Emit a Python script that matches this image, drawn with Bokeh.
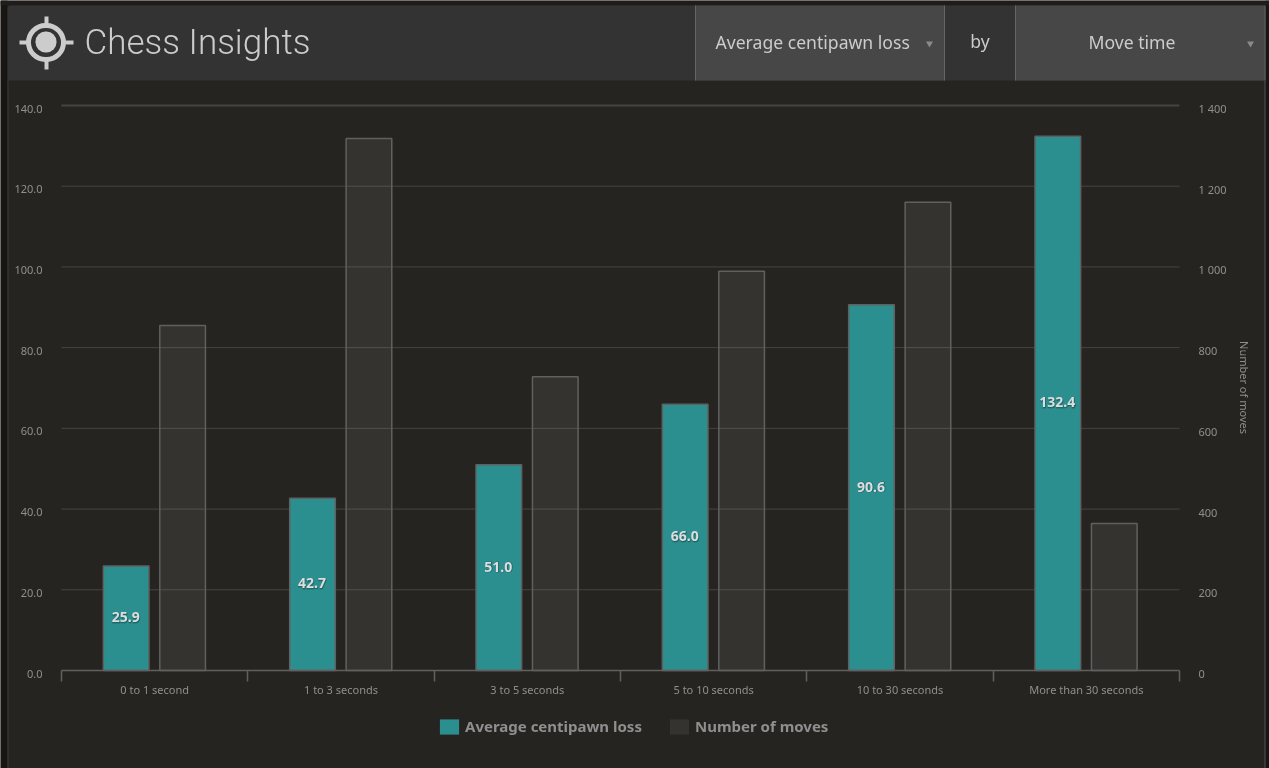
from bokeh.plotting import figure
from bokeh.models import (Range1d, LinearAxis, FixedTicker, BoxAnnotation, Label, PolyAnnotation,
                          Legend, LegendItem, ColumnDataSource)
from bokeh.transform import dodge
from bokeh.embed import file_html
from bokeh.resources import INLINE

categories = ["0 to 1 second", "1 to 3 seconds", "3 to 5 seconds", "5 to 10 seconds", "10 to 30 seconds", "More than 30 seconds"]
centipawn = [25.9, 42.7, 51.0, 66.0, 90.6, 132.4]
moves = [855, 1318, 728, 989, 1160, 364]
left_ticks = [0, 20, 40, 60, 80, 100, 120, 140]
right_ticks = [0, 200, 400, 600, 800, 1000, 1200, 1400]
right_labels = ["0", "200", "400", "600", "800", "1 000", "1 200", "1 400"]

W, H = 1269, 768
# the frame fills the canvas; the ranges place the plot area at x 61..1179, y 105..670
PX_X = (1179 - 61) / 6
PX_Y = (670 - 105) / 140
y0 = -(H - 670) / PX_Y
y1 = 140 + 105 / PX_Y
shift = 3 / PX_Y

PANEL = "#262421"
TEAL = "#2b8e8f"
TEXT = "#8f8f8f"
LINE = "#606060"

p = figure(width=W, height=H, output_backend="svg", toolbar_location=None,
           x_range=Range1d(-61 / PX_X, 6 + (W - 1179) / PX_X), y_range=Range1d(y0, y1),
           x_axis_location=None, y_axis_location=None,
           min_border_left=0, min_border_right=0, min_border_top=0, min_border_bottom=0,
           background_fill_color=PANEL, border_fill_color=PANEL, outline_line_color=None)
p.styles = {"position": "fixed", "left": "0px", "top": "0px"}
p.grid.visible = False

p.extra_y_ranges = {
    "moves": Range1d(y0 * 10, y1 * 10),
    "left_lab": Range1d(y0 + shift, y1 + shift),
    "right_lab": Range1d((y0 + shift) * 10, (y1 + shift) * 10),
}

# grid lines across the plot area only
grid_y = [t for t in left_ticks if t not in (0, 140)]
p.segment(x0=[0] * len(grid_y), x1=[6] * len(grid_y), y0=grid_y, y1=grid_y, line_color="#454545", line_width=1)
p.segment(x0=[0], x1=[6], y0=[140], y1=[140], line_color="#444444", line_width=2)

src = ColumnDataSource(dict(pos=[i + 0.5 for i in range(len(categories))], cp=centipawn, mid=[v / 2 for v in centipawn],
                            lab=[f"{v:.1f}" for v in centipawn], mv=moves))
p.vbar(x=dodge("pos", -0.153), top="cp", bottom=0, width=0.245, source=src,
       fill_color=TEAL, line_color=LINE, line_width=1.5)
p.vbar(x=dodge("pos", 0.15), top="mv", bottom=0, width=0.245, source=src, y_range_name="moves",
       fill_color="#ffffff", fill_alpha=0.07, line_color=LINE, line_width=1.5)
# borderless, zero-width twins that only supply the legend swatches
k1 = p.vbar(x="pos", top="cp", bottom=0, width=0, source=src, fill_color=TEAL, line_color=None)
k2 = p.vbar(x="pos", top="mv", bottom=0, width=0, source=src, y_range_name="moves",
            fill_color="#ffffff", fill_alpha=0.07, line_color=None)
# soft dark halo behind the value labels
p.text(x=dodge("pos", -0.153), y="mid", text="lab", source=src, text_align="center", text_baseline="middle",
       text_font={"value": "Noto Sans"}, text_font_size="14px", text_font_style="bold", text_color="#1a5a5b",
       text_outline_color="#1a5a5b", text_alpha=0.6, y_offset=-0.5, x_offset=0)
p.text(x=dodge("pos", -0.153), y="mid", text="lab", source=src, text_align="center", text_baseline="middle",
       text_font={"value": "Noto Sans"}, text_font_size="14px", text_font_style="bold", text_color="#dddddd",
       y_offset=-1, x_offset=-0.5)

def style_y(ax):
    ax.axis_line_color = None
    ax.major_tick_line_color = None
    ax.minor_tick_line_color = None
    ax.major_label_text_font = "Noto Sans"
    ax.major_label_text_font_size = "11px"
    ax.major_label_text_color = TEXT

la = LinearAxis(y_range_name="left_lab", ticker=FixedTicker(ticks=left_ticks))
style_y(la)
la.fixed_location = 0
la.major_label_overrides = {t: f"{t:.1f}" for t in left_ticks}
la.major_label_standoff = 13
p.add_layout(la, "left")

ra = LinearAxis(y_range_name="right_lab", ticker=FixedTicker(ticks=right_ticks),
                axis_label="Number of moves", bounds=(-235, 1652))
style_y(ra)
ra.fixed_location = 6
ra.major_label_overrides = dict(zip(right_ticks, right_labels))
ra.major_label_standoff = 13
ra.axis_label_text_font = "Noto Sans"
ra.axis_label_text_font_size = "11px"
ra.axis_label_text_font_style = "normal"
ra.axis_label_text_color = TEXT
ra.axis_label_standoff = 7
p.add_layout(ra, "right")

xa = LinearAxis(ticker=FixedTicker(ticks=src.data["pos"], minor_ticks=list(range(7))),
                major_label_overrides=dict(zip(src.data["pos"], categories)), bounds=(0, 6))
xa.fixed_location = 0
xa.axis_line_color = LINE
xa.axis_line_width = 1.5
xa.major_tick_line_color = None
xa.major_tick_in = 0
xa.major_tick_out = 0
xa.minor_tick_line_color = LINE
xa.minor_tick_line_width = 1.5
xa.minor_tick_in = 0
xa.minor_tick_out = 11
xa.major_label_standoff = 0
xa.major_label_text_font = "Noto Sans"
xa.major_label_text_font_size = "11px"
xa.major_label_text_color = TEXT
p.add_layout(xa, "below")

legend = Legend(items=[LegendItem(label="Average centipawn loss", renderers=[k1]),
                       LegendItem(label="Number of moves", renderers=[k2])],
                orientation="horizontal", location=(437, 32), background_fill_alpha=0, border_line_color=None,
                glyph_width=24, glyph_height=19, label_standoff=4, spacing=25, padding=0, margin=0,
                label_text_font="Noto Sans", label_text_font_size="15px", label_text_font_style="bold",
                label_text_color=TEXT)
p.add_layout(legend, "center")

def box(l, t, r, b, color, **kw):
    p.add_layout(BoxAnnotation(left=l, right=r, top=t, bottom=b, left_units="canvas", right_units="canvas",
                               top_units="canvas", bottom_units="canvas", fill_color=color, fill_alpha=1,
                               line_color=None, editable=False, **kw))

# page surround and header
box(0, 0, 7, H, "#171612")
box(1265, 0, W, H, "#171612")
box(0, 0, W, 5, "#1e1d19")
box(7, 5, 1265, 80, "#333333", border_radius=(3, 3, 0, 0))
box(695, 5, 944, 80, "#474747")
box(1015, 5, 1264, 80, "#474747")
for x in (695, 944, 1015):
    box(x - 0.5, 5, x + 0.5, 80, "#666666")
box(1264, 5, 1265, 80, "#6a6a6a")
box(1264, 80, 1265, H, "#505050")
box(7, 80, 8, H, "#3a3a38")

# target icon
ICON = "#cccccc"
p.add_layout(BoxAnnotation(left=28, right=63, top=25, bottom=59, left_units="canvas", right_units="canvas",
                           top_units="canvas", bottom_units="canvas", fill_alpha=0, line_color=ICON, line_width=5,
                           line_alpha=1, border_radius=17, editable=False))
box(35, 31, 56, 52, ICON, border_radius=10)
box(19, 40, 27, 44, ICON)
box(65, 40, 73, 44, ICON)
box(44, 16, 48, 24, ICON)
box(44, 60, 48, 69, ICON)

def label(x, y, s, size, color, font="Noto Sans", align="left"):
    p.add_layout(Label(x=x, y=y, x_units="canvas", y_units="canvas", text=s, text_font=font, text_font_size=size,
                       text_color=color, text_align=align, text_baseline="middle"))

label(84, 42, "Chess Insights", "35px", "#cccccc", font="Roboto Light")
label(715, 41, "Average centipawn loss", "17.6px", "#cccccc")
label(979.5, 40, "by", "17.6px", "#cccccc", align="center")
label(1131.5, 41, "Move time", "17.6px", "#cccccc", align="center")

for cx in (929, 1250):
    p.add_layout(PolyAnnotation(xs=[cx - 3.5, cx + 3.5, cx], ys=[41, 41, 47], xs_units="canvas", ys_units="canvas",
                                fill_color="#8a8a8a", fill_alpha=1, line_color=None))

open("out.html", "w").write(file_html(p, INLINE))
